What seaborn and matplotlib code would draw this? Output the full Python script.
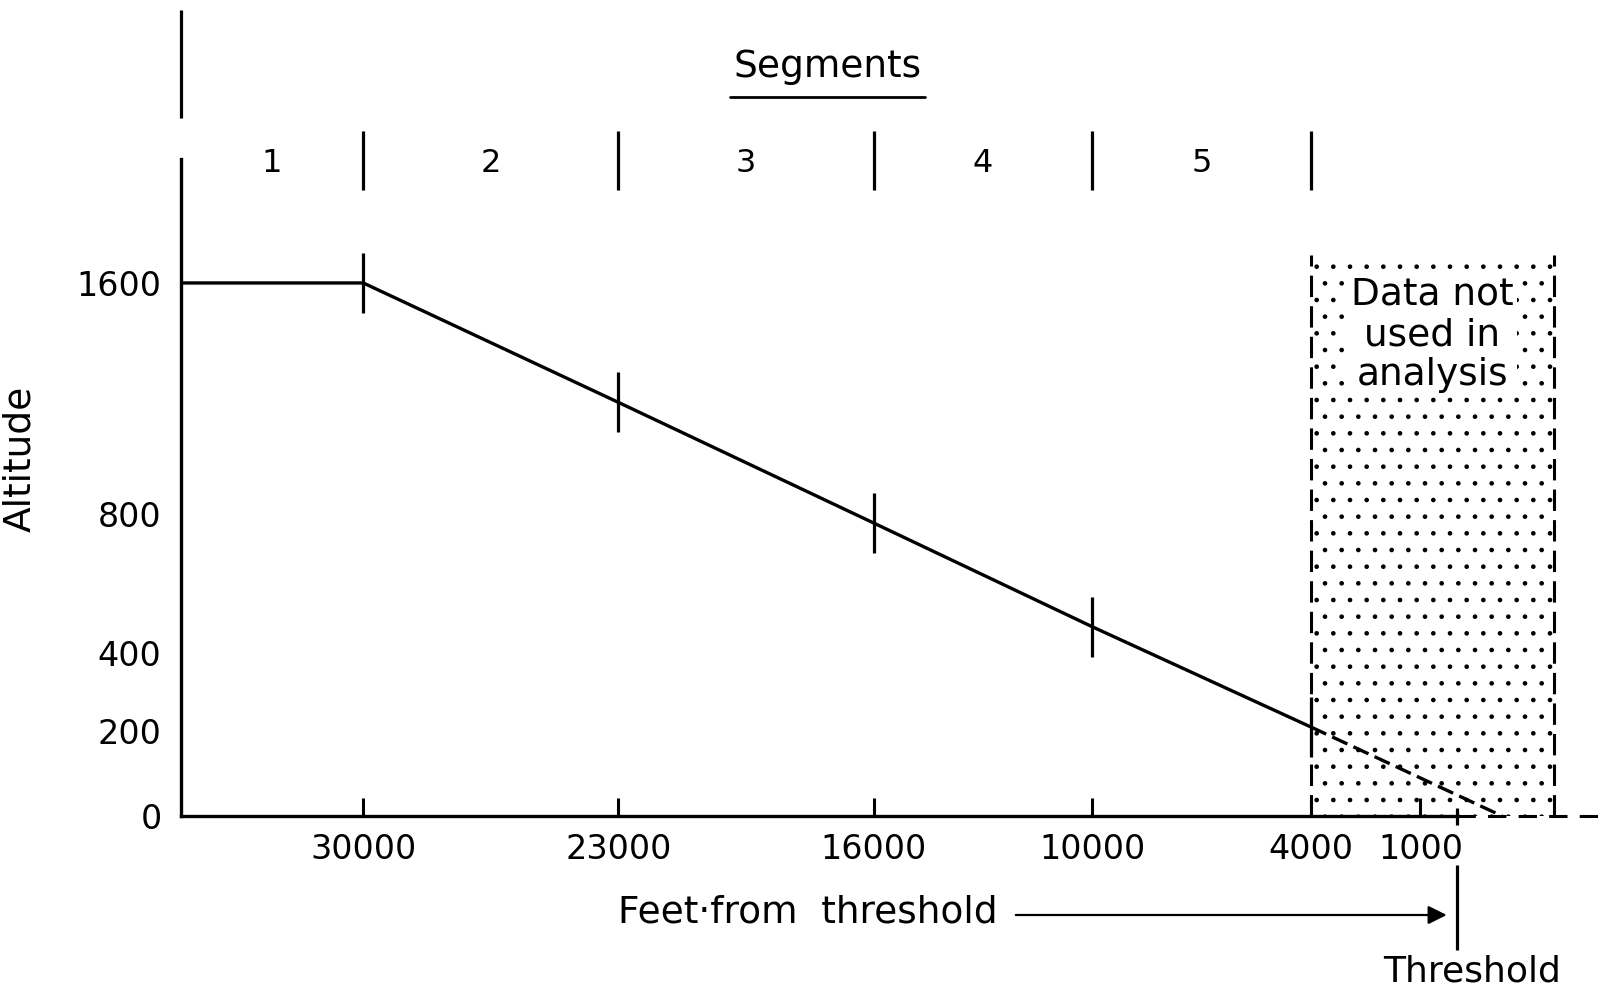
import numpy as np
import pandas as pd
import seaborn as sns
import matplotlib.pyplot as plt

# perfil de aproximacao: distancia ate a cabeceira (ft) x altitude (ft)
dist_solid = [35000, 30000, 23000, 16000, 10000, 4000]
alt_solid = [1600, 1600, 1162, 771, 471, 210]
dist_dashed = [4000, -1240]
alt_dashed = [210, 0]

# limites dos segmentos
seg_bounds = [35000, 30000, 23000, 16000, 10000, 4000]
seg_labels = ["1", "2", "3", "4", "5"]

x_ticks = [30000, 23000, 16000, 10000, 4000, 1000]
y_ticks = [0, 200, 400, 800, 1600]

# faixa sem uso na analise
excl_start, excl_end = 4000, -2650

sns.set_theme(style="white")
plt.rcParams["font.family"] = ["DejaVu Sans"]
plt.rcParams["text.color"] = "black"
plt.rcParams["axes.labelcolor"] = "black"
plt.rcParams["hatch.linewidth"] = 0.9

W, H = 1606, 997
fig = plt.figure(figsize=(W / 100, H / 100), dpi=100)
ax = fig.add_axes([181 / W, (H - 816) / H, (W - 181) / W, (816 - 159) / H])

df_solid = pd.DataFrame({"dist": dist_solid, "alt": alt_solid})
df_dashed = pd.DataFrame({"dist": dist_dashed, "alt": alt_dashed})
sns.lineplot(data=df_solid, x="dist", y="alt", sort=False, color="black", lw=2.4, ax=ax)
sns.lineplot(data=df_dashed, x="dist", y="alt", sort=False, color="black", lw=2.4,
             linestyle=(0, (5, 2)), ax=ax)

# escala do eixo y (desenho esquematico, nao linear)
ax.set_yscale("function", functions=(lambda a: np.log1p(np.asarray(a) / 2200.0),
                                     lambda u: 2200.0 * np.expm1(np.asarray(u))))
ax.set_xlim(35000, -4090)
ax.set_ylim(0, 2115)

# marcas dos segmentos sobre a linha
ax.plot(seg_bounds[1:], alt_solid[1:], linestyle="none", marker="|", markersize=43,
        mew=2.3, color="black")

xt = ax.get_xaxis_transform()

# faixa pontilhada
ax.axvspan(excl_start, excl_end, ymin=0, ymax=0.854, facecolor="none", hatch=".",
           edgecolor="black", linewidth=0)
for xb in (excl_start, excl_end):
    ax.axvline(xb, ymin=0, ymax=0.854, color="black", lw=2.2, linestyle=(0, (7, 3)))
ax.text((excl_start + excl_end) / 2, 0.732, "Data not\nused in\nanalysis", transform=xt,
        ha="center", va="center", fontsize=27, linespacing=1.15,
        bbox=dict(boxstyle="square,pad=0.1", fc="white", ec="none"))

# eixos
sns.despine(ax=ax)
ax.spines["left"].set_linewidth(2.4)
ax.spines["bottom"].set_linewidth(2.4)
ax.spines["left"].set_color("black")
ax.spines["bottom"].set_color("black")
ax.spines["bottom"].set_bounds(35000, 0)
ax.plot([0, -4090], [0, 0], color="black", lw=2.2, linestyle=(0, (6, 4)), clip_on=False)

ax.set_xticks(x_ticks)
ax.set_xticklabels([str(v) for v in x_ticks])
ax.set_yticks(y_ticks)
ax.set_yticklabels([str(v) for v in y_ticks])
ax.minorticks_off()
ax.tick_params(axis="x", bottom=True, direction="in", length=13, width=2.2, pad=12,
               labelsize=24, colors="black")
ax.tick_params(axis="y", length=0, pad=14, labelsize=24, colors="black")
ax.set_xlabel("")
ax.set_ylabel("Altitude", fontsize=27, labelpad=10, color="black")
ax.yaxis.set_label_coords(-(181 - 38) / (W - 181), (816 - 459) / (816 - 159))

# cabecalho dos segmentos
ax.vlines(seg_bounds[1:], 0.9528, 1.0426, transform=xt, color="black", lw=2.3, clip_on=False)
ax.vlines([seg_bounds[0]], 1.0624, 1.2268, transform=xt, color="black", lw=2.3, clip_on=False)
for i, lab in enumerate(seg_labels):
    mid = (seg_bounds[i] + seg_bounds[i + 1]) / 2
    ax.text(mid, 0.993, lab, transform=xt, ha="center", va="center", fontsize=23)
ax.text(0.454, 1.14, "Segments", transform=ax.transAxes, ha="center", va="center",
        fontsize=27)
ax.plot([0.385, 0.522], [1.094, 1.094], transform=ax.transAxes, color="black", lw=2,
        clip_on=False)

# cabeceira e seta
ax.vlines([0], -0.0137, 0.012, transform=xt, color="black", lw=2.3, clip_on=False)
ax.vlines([0], -0.2038, -0.0746, transform=xt, color="black", lw=2.3, clip_on=False)
ax.annotate("", xy=(280, -0.1507), xycoords=xt, xytext=(12100, -0.1507), textcoords=xt,
            arrowprops=dict(arrowstyle="-|>", color="black", lw=1.6, mutation_scale=28,
                            shrinkA=0, shrinkB=0))
ax.text(17800, -0.1476, "Feet\u00b7from  threshold", transform=xt, ha="center",
        va="center", fontsize=27)
ax.text(-420, -0.2367, "Threshold", transform=xt, ha="center", va="center", fontsize=26)

fig.savefig("out.png", dpi=100)
